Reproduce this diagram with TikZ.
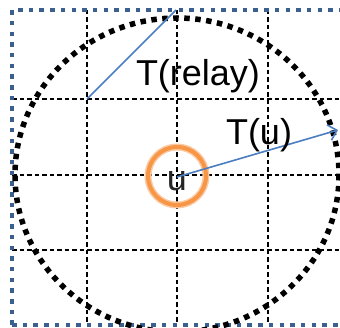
\documentclass[tikz,border=0pt]{standalone}
\usepackage{fontspec}
\setmainfont{Liberation Sans}
\usetikzlibrary{arrows.meta}
\definecolor{sqblue}{HTML}{3B5F8F}
\definecolor{lineblue}{HTML}{4A7EC0}
\definecolor{ringorange}{HTML}{F79646}
\begin{document}
\begin{tikzpicture}[x=1pt,y=-1pt,
  gridline/.style={black, line width=1.6pt, dash pattern=on 4.5pt off 3pt},
  squareline/.style={sqblue, line width=4.5pt, dash pattern=on 4.5pt off 6.2pt},
  rangecircle/.style={black, line width=5.5pt, dash pattern=on 5.5pt off 5.5pt},
  bluearrow/.style={lineblue, line width=1.6pt},
  bigtext/.style={font=\fontsize{36}{40}\selectfont, inner sep=0pt, anchor=base}]
\useasboundingbox (0,0) rectangle (340,328);
\clip (0,0) rectangle (340,328);
% grid
\foreach \x in {87,177,268} \draw[gridline] (\x,10) -- (\x,325);
\foreach \y in {99,175,250} \draw[gridline] (12,\y) -- (340,\y);
% dotted square
\draw[squareline] (12,325) -- (12,10) -- (350,10);
\draw[squareline] (12,325) -- (350,325);
% big dotted circle
\draw[rangecircle] (177,175) ellipse [x radius=162, y radius=157];
% orange ring
\draw[ringorange!50, line width=7pt] (177,176) circle (29);
\draw[ringorange, line width=4pt] (177,176) circle (29);
% nodes
\node[font=\fontsize{36}{40}\selectfont, text=black!85, inner sep=0pt, anchor=base] (u) at (177,191) {u};
\coordinate (uc) at (177,177);
\coordinate (tip) at (338,130);
\coordinate (ra) at (87,99);
\coordinate (rb) at (176,10);
\draw[bluearrow] (ra) -- (rb);
\draw[bluearrow, -{Straight Barb[length=8pt,width=16pt]}] (uc) -- (tip);
\node[bigtext] (trelay) at (198,86) {T(relay)};
\node[bigtext] (tu) at (259,145) {T(u)};
\end{tikzpicture}
\end{document}
